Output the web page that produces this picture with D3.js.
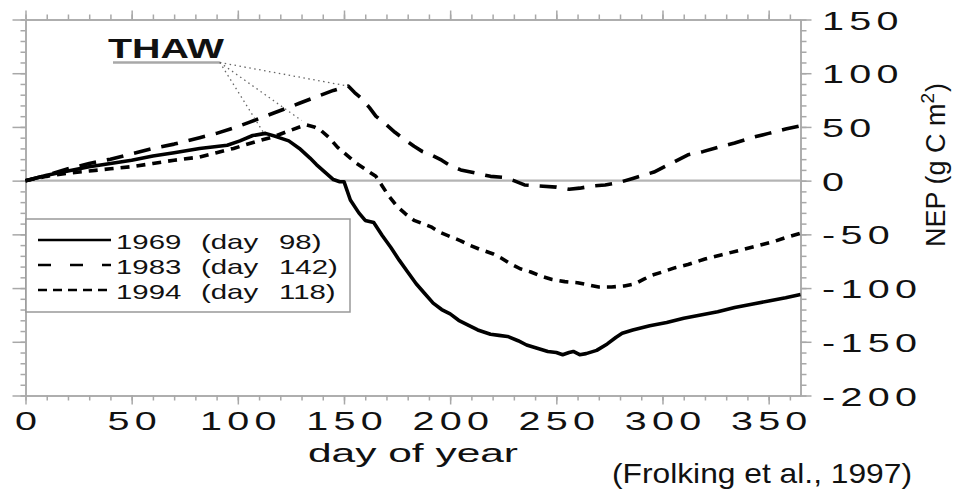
<!DOCTYPE html>
<html><head><meta charset="utf-8">
<script src="https://cdn.jsdelivr.net/npm/d3@7"></script>
<style>
html,body{margin:0;padding:0;background:#fff;}
svg{display:block;font-family:"Liberation Sans",Arial,Helvetica,sans-serif;}
</style></head><body>
<svg id="chart" width="959" height="492"></svg>
<script>
// ---- data ----
const days1969 = [0,10,20,30,40,50,60,70,82,95,101,107,113,118,124,129,134,137,141,145,148,150,153,157,160,164,168,172,176,180,184,188,192,196,200,204,208,213,219,223,227,232,236,241,246,250,253,256,258,261,264,269,274,278,281,286,294,302,310,318,326,334,342,350,358,365];
const nep1969  = [0,5,9,13,16,19,23,26,30,33,37,42,44,41,37,30,21,15,8,1,-1,-1,-18,-30,-37,-39,-51,-62,-74,-85,-96,-105,-114,-120,-124,-130,-134,-139,-143,-144,-145,-149,-153,-156,-159,-160,-162,-160,-159,-162,-161,-158,-152,-146,-142,-139,-135,-132,-128,-125,-122,-118,-115,-112,-109,-106];

const days1983 = [0,10,20,30,40,50,60,70,82,90,98,105,113,121,129,137,145,152,155,158,162,165,170,174,178,183,187,191,196,200,205,212,219,225,230,235,242,250,256,261,267,273,279,286,291,296,301,306,312,319,326,334,342,350,358,365];
const nep1983  = [0,5,11,16,20,25,30,34,40,44,49,54,60,66,72,78,84,88,82,77,68,60,52,45,39,32,27,24,19,14,10,7,4,3,0,-4,-5,-6,-8,-7,-5,-4,-2,2,5,8,13,18,24,27,31,35,40,44,48,51];

const days1994 = [0,10,20,30,40,50,60,70,82,90,98,108,117,125,132,136,139,143,147,150,153,156,159,162,165,168,171,175,179,183,187,191,195,200,205,209,214,220,224,228,233,238,243,248,254,260,265,270,276,282,287,291,295,300,306,312,320,328,336,344,352,358,365];
const nep1994  = [0,4,7,9,11,13,16,19,22,26,30,36,41,47,52,50,47,40,31,26,21,16,12,8,4,-5,-14,-24,-31,-37,-40,-43,-48,-52,-56,-60,-64,-68,-72,-77,-82,-85,-89,-92,-94,-95,-97,-99,-99,-98,-96,-92,-88,-85,-81,-78,-73,-69,-65,-61,-57,-53,-49];

const xTickValues = [0,50,100,150,200,250,300,350];
const yTickValues = [150,100,50,0,-50,-100,-150,-200];
const legendYears = ["1969","1983","1994"];
const legendDays  = ["98)","142)","118)"];
const thawLabel = "THAW";
const thawAnchor = [91.5, 110];           // day, NEP at end of THAW underline
const thawTargets = [[152,88],[130,56],[112,45]];
const xTitle = "day of year";
const citation = "(Frolking et al., 1997)";

// ---- setup ----
const svg = d3.select("#chart");
const x = d3.scaleLinear().domain([0,365]).range([25.5,800.5]);
const y = d3.scaleLinear().domain([-200,150]).range([395.5,19.5]);
const axisColor = "#a8a8a8";
const xMinor = d3.range(0,366,10);
const yMinor = d3.range(-200,151,10);

function styleAxis(g){
  g.selectAll("path,line").attr("stroke",axisColor).attr("stroke-width",1.5);
}
function drawAxis(axis, tx, ty){
  const g = svg.append("g").attr("transform",`translate(${tx},${ty})`).call(axis);
  styleAxis(g);
  return g;
}
// minor ticks
drawAxis(d3.axisBottom(x).tickValues(xMinor).tickSize(5).tickSizeOuter(0).tickFormat(""),0,395.5);
drawAxis(d3.axisTop(x).tickValues(xMinor).tickSize(5).tickSizeOuter(0).tickFormat(""),0,19.5);
drawAxis(d3.axisLeft(y).tickValues(yMinor).tickSize(5).tickSizeOuter(0).tickFormat(""),25.5,0);
drawAxis(d3.axisRight(y).tickValues(yMinor).tickSize(6).tickSizeOuter(0).tickFormat(""),800.5,0);
// major ticks
const gb = drawAxis(d3.axisBottom(x).tickValues(xTickValues).tickSize(9).tickSizeOuter(0).tickFormat(d=>String(d)),0,395.5);
drawAxis(d3.axisTop(x).tickValues(xTickValues).tickSize(9).tickSizeOuter(0).tickFormat(""),0,19.5);
drawAxis(d3.axisLeft(y).tickValues(yTickValues).tickSize(13).tickSizeOuter(0).tickFormat(""),25.5,0);
const gr = drawAxis(d3.axisRight(y).tickValues(yTickValues).tickSize(11).tickSizeOuter(0).tickFormat(d=>String(d)),800.5,0);

gb.selectAll("text")
  .attr("y",null).attr("dy",null)
  .attr("font-size",25.5).attr("letter-spacing",3.4).attr("fill","#111")
  .attr("font-family","'Liberation Sans',Arial,sans-serif")
  .attr("text-anchor","middle")
  .attr("transform","translate(2.6,34.5) scale(1.55,1)");
gr.selectAll("text")
  .attr("x",null).attr("dy",null)
  .attr("font-size",25.5).attr("letter-spacing",3.4).attr("fill","#111")
  .attr("font-family","'Liberation Sans',Arial,sans-serif")
  .attr("text-anchor","start")
  .attr("transform","translate(21.5,9.5) scale(1.55,1)");

// zero line
svg.append("line")
  .attr("x1",x(0)).attr("x2",x(365)).attr("y1",y(0)).attr("y2",y(0))
  .attr("stroke","#b4b4b4").attr("stroke-width",2.2);

// ---- series ----
const line = d3.line().x(d=>x(d[0])).y(d=>y(d[1]));
const series = [
  {days:days1969, nep:nep1969, dash:null},
  {days:days1983, nep:nep1983, dash:"17,11"},
  {days:days1994, nep:nep1994, dash:"9,7"}
];
series.forEach(s=>{
  svg.append("path")
    .datum(s.days.map((d,i)=>[d,s.nep[i]]))
    .attr("d",line)
    .attr("fill","none").attr("stroke","#000")
    .attr("stroke-width",3.6)
    .attr("stroke-linejoin","round")
    .attr("stroke-dasharray",s.dash);
});

// ---- THAW annotation ----
svg.append("text").text(thawLabel)
  .attr("x",108).attr("y",58)
  .attr("font-size",28).attr("font-weight","bold").attr("fill","#111")
  .attr("textLength",116).attr("lengthAdjust","spacingAndGlyphs");
svg.append("line").attr("x1",113).attr("x2",x(thawAnchor[0])).attr("y1",y(thawAnchor[1])).attr("y2",y(thawAnchor[1]))
  .attr("stroke","#a8a8a8").attr("stroke-width",2.6);
thawTargets.forEach(t=>{
  svg.append("line")
    .attr("x1",x(thawAnchor[0])).attr("y1",y(thawAnchor[1]))
    .attr("x2",x(t[0])).attr("y2",y(t[1]))
    .attr("stroke","#666").attr("stroke-width",1.3).attr("stroke-dasharray","1.5,3.5");
});

// ---- legend ----
svg.append("rect").attr("x",26).attr("y",219).attr("width",324).attr("height",93)
  .attr("fill","#fff").attr("stroke","#999").attr("stroke-width",1.5);
const legendDash = [null,"13,19","9,6"];
const rowLineY = [240,265,290];
const rowBase = [249,273.5,299];
legendYears.forEach((yr,i)=>{
  svg.append("line").attr("x1",38).attr("x2",111).attr("y1",rowLineY[i]).attr("y2",rowLineY[i])
    .attr("stroke","#000").attr("stroke-width",2.6).attr("stroke-dasharray",legendDash[i]);
  const pieces = [[116,yr],[201,"(day"],[279,legendDays[i]]];
  pieces.forEach(p=>{
    svg.append("text").text(p[1])
      .attr("transform",`translate(${p[0]},${rowBase[i]}) scale(1.4,1)`)
      .attr("font-size",21).attr("fill","#111");
  });
});

// ---- titles ----
svg.append("text").text(xTitle)
  .attr("x",308).attr("y",462).attr("font-size",25).attr("fill","#111")
  .attr("textLength",210).attr("lengthAdjust","spacingAndGlyphs");
svg.append("text").text(citation)
  .attr("x",612).attr("y",483).attr("font-size",28).attr("fill","#111")
  .attr("textLength",300).attr("lengthAdjust","spacingAndGlyphs");
const yt = svg.append("text")
  .attr("transform","translate(945,165) rotate(-90)")
  .attr("text-anchor","middle").attr("font-size",27).attr("fill","#111");
yt.append("tspan").text("NEP (g C m");
yt.append("tspan").text("2").attr("font-size",19).attr("dy",-11);
yt.append("tspan").text(")").attr("dy",11).attr("dx",1);
</script>
</body></html>
